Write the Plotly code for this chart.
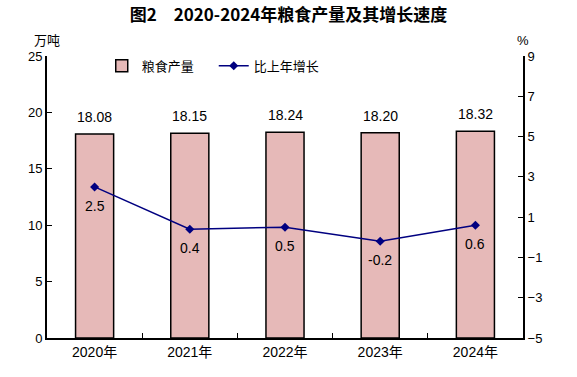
import plotly.graph_objects as go

years = ["2020年", "2021年", "2022年", "2023年", "2024年"]
output = [18.08, 18.15, 18.24, 18.20, 18.32]
growth = [2.5, 0.4, 0.5, -0.2, 0.6]

font_fam = "Arial, Liberation Sans, Noto Sans CJK SC"

fig = go.Figure()
fig.add_trace(go.Bar(
    x=years, y=output, name="粮食产量",
    marker=dict(color="#E6B9B8", line=dict(color="black", width=1.5)),
    width=0.4,
))
fig.add_trace(go.Scatter(
    x=years, y=growth, name="比上年增长", yaxis="y2",
    mode="lines+markers",
    line=dict(color="#000080", width=1.5),
    marker=dict(symbol="diamond", size=7, color="#000080"),
))

annotations = [
    dict(text="万吨", xref="paper", yref="paper", x=0.0, y=1.0, xanchor="center",
         yanchor="bottom", yshift=6, showarrow=False, font=dict(size=13)),
    dict(text="%", xref="paper", yref="paper", x=1.0, y=1.0, xanchor="center",
         yanchor="bottom", yshift=6, showarrow=False, font=dict(size=13)),
]
for xv, v in zip(years, output):
    annotations.append(dict(text=f"{v:.2f}", x=xv, y=v, xref="x", yref="y",
                            yanchor="bottom", yshift=7, showarrow=False,
                            font=dict(size=14, color="black")))
for xv, v in zip(years, growth):
    annotations.append(dict(text=f"{v:.1f}", x=xv, y=v, xref="x", yref="y2",
                            yanchor="top", yshift=-9, showarrow=False,
                            font=dict(size=14, color="black")))

fig.update_layout(
    width=577, height=377,
    margin=dict(l=47, r=54, t=56, b=39),
    paper_bgcolor="white", plot_bgcolor="white",
    font=dict(family=font_fam, size=13, color="black"),
    title=dict(text="<b>图2　2020-2024年粮食产量及其增长速度</b>", x=0.5, xanchor="center",
               y=0.96, yanchor="middle", font=dict(size=17, family="Noto Sans CJK SC, Arial")),
    showlegend=True,
    legend=dict(orientation="h", x=0.115, y=0.965, xanchor="left", yanchor="middle",
                bgcolor="rgba(0,0,0,0)", font=dict(size=13), itemwidth=30,
                entrywidth=67, traceorder="normal"),
    xaxis=dict(type="category", showline=True, linecolor="black", linewidth=2,
               ticks="inside", ticklen=5, tickcolor="black", tickson="boundaries",
               showgrid=False, tickfont=dict(size=14), range=[-0.5, 4.5]),
    yaxis=dict(range=[0, 25], dtick=5, showline=True, linecolor="black", linewidth=2,
               ticks="inside", ticklen=5, tickcolor="black", showgrid=False, zeroline=False,
               tickfont=dict(size=13)),
    yaxis2=dict(range=[-5, 9], dtick=2, tick0=-5, overlaying="y", side="right",
                showline=True, linecolor="black", linewidth=2, ticks="inside", ticklen=5,
                tickcolor="black", showgrid=False, zeroline=False, tickfont=dict(size=13)),
    annotations=annotations,
)

fig.write_html("out.html", config={"displayModeBar": False},
               post_script="document.body.style.margin='0';document.body.style.overflow='hidden';")
